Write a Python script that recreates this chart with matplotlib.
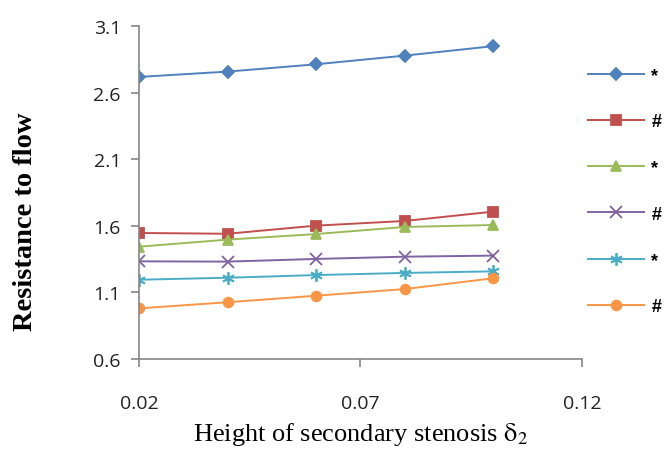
import matplotlib
matplotlib.use("Agg")
import matplotlib.pyplot as plt

plt.rcParams["mathtext.fontset"] = "stix"

# Height of secondary stenosis (x) and resistance to flow for each series
delta2 = [0.02, 0.04, 0.06, 0.08, 0.10]
blue = [2.717, 2.757, 2.812, 2.877, 2.948]
red = [1.546, 1.540, 1.601, 1.636, 1.706]
green = [1.443, 1.496, 1.538, 1.591, 1.606]
purple = [1.333, 1.331, 1.351, 1.368, 1.376]
cyan = [1.195, 1.210, 1.230, 1.246, 1.258]
orange = [0.980, 1.026, 1.075, 1.125, 1.206]
labels = ["*", "#", "*", "#", "*", "#"]
xticks = [0.02, 0.07, 0.12]
yticks = [0.6, 1.1, 1.6, 2.1, 2.6, 3.1]

series = [
    (blue, "#4F81BD", "D", 6),
    (red, "#C0504D", "s", 7),
    (green, "#9BBB59", "^", 7),
    (purple, "#8064A2", "x", 8),
    (cyan, "#4BACC6", (6, 2, 0), 9),
    (orange, "#F79646", "o", 7),
]

fig = plt.figure(figsize=(6.65, 4.56), dpi=100)
ax = fig.add_axes([0.209, 0.2105, 0.666, 0.7305])

for (ys, c, m, ms), lab in zip(series, labels):
    ax.plot(delta2, ys, color=c, marker=m, markersize=ms, linewidth=1.4,
            markeredgewidth=1.3, label=lab)

ax.set_xlim(0.02, 0.12)
ax.set_ylim(0.6, 3.1)
ax.set_xticks(xticks)
ax.set_xticklabels(["%.2f" % v for v in xticks])
ax.set_yticks(yticks)
ax.set_yticklabels(["%.1f" % v for v in yticks])

for s in ("top", "right"):
    ax.spines[s].set_visible(False)
for s in ("left", "bottom"):
    ax.spines[s].set_color("#868686")
    ax.spines[s].set_linewidth(1.2)
ax.tick_params(axis="both", colors="#868686", length=6, width=1.2,
               labelcolor="#222222", labelsize=14)
ax.tick_params(axis="x", pad=19)
ax.tick_params(axis="y", pad=7)
for t in ax.get_xticklabels() + ax.get_yticklabels():
    t.set_family("Open Sans")

ax.set_xlabel(r"Height of secondary stenosis $\mathrm{\delta_2}$",
              family="Liberation Serif", fontsize=19, labelpad=6)
ax.set_ylabel("Resistance to flow", family="Liberation Serif", fontsize=20.5,
              fontweight="bold")
# the original label sits a bit below the middle of the axis
ax.yaxis.set_label_coords(-0.228, 0.414)

# legend sits against the right edge of the figure, as in the original
fig.legend(*ax.get_legend_handles_labels(), loc="upper right",
           bbox_to_anchor=(1.008, 0.871), frameon=False, borderpad=0,
           handlelength=3.1, labelspacing=1.62, handletextpad=0.4,
           prop={"family": "Liberation Sans", "size": 13, "weight": "bold"})

fig.savefig("out.png", dpi=100)
